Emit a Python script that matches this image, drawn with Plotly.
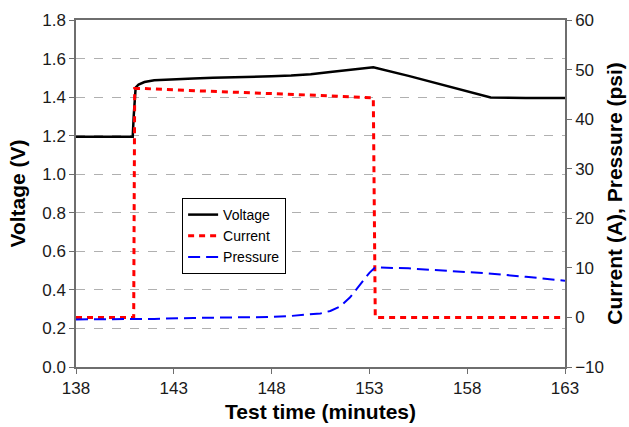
import plotly.graph_objects as go

# ---- data ----
volt_t = [138, 140.9, 140.95, 141.05, 141.2, 141.5, 142, 143, 144, 145, 146, 147, 148,
          149, 150, 151, 152, 153.2, 155, 157, 159.2, 161, 163]
volt_v = [1.195, 1.195, 1.30, 1.45, 1.465, 1.478, 1.487, 1.493, 1.497, 1.500, 1.502, 1.505,
          1.508, 1.512, 1.519, 1.530, 1.542, 1.555, 1.51, 1.455, 1.398, 1.395, 1.395]

curr_t = [138, 140.95, 141.0, 141.3, 143, 145, 147, 149, 151, 153.2, 153.3, 163]
curr_a = [0.0, 0.0, 46.2, 46.2, 45.9, 45.6, 45.4, 45.1, 44.7, 44.3, 0.0, 0.0]

pres_t = [138, 140, 142, 144, 146, 148, 149, 150, 150.5, 151, 151.5, 152, 152.5, 153,
          153.3, 155, 157, 159, 161, 163]
pres_p = [-0.4, -0.4, -0.3, -0.1, 0.0, 0.1, 0.3, 0.6, 0.8, 1.3, 2.2, 4.0, 6.5, 9.0,
          10.1, 9.9, 9.4, 8.9, 8.2, 7.4]

x_ticks = [138, 143, 148, 153, 158, 163]

FONT = "Liberation Sans, Arial, sans-serif"
AX = "#6e6e6e"
TICKF = dict(size=17, color="#1a1a1a")
TITLEF = dict(size=21, color="black")

fig = go.Figure()
fig.add_trace(go.Scatter(x=volt_t, y=volt_v, name="Voltage", mode="lines",
                         line=dict(color="black", width=2.5)))
fig.add_trace(go.Scatter(x=curr_t, y=curr_a, name="Current", mode="lines", yaxis="y2",
                         line=dict(color="#ff0000", width=3, dash="6px,5px")))
fig.add_trace(go.Scatter(x=pres_t, y=pres_p, name="Pressure", mode="lines", yaxis="y2",
                         line=dict(color="#0000ff", width=2, dash="12px,6px")))

fig.update_layout(
    width=629, height=427,
    margin=dict(l=76, r=64, t=20, b=60),
    paper_bgcolor="white", plot_bgcolor="white",
    font=dict(family=FONT, size=14, color="#1a1a1a"),
    showlegend=True,
    legend=dict(x=0.217, y=0.487, xanchor="left", yanchor="top",
                bordercolor="black", borderwidth=1, bgcolor="white",
                font=dict(size=14, color="black"), tracegroupgap=0),
    xaxis=dict(range=[138, 163], tickvals=x_ticks, ticktext=[str(v) for v in x_ticks],
               showline=True, linecolor=AX, linewidth=1.5, mirror=True,
               ticks="outside", ticklen=5, tickcolor=AX, showgrid=False, zeroline=False,
               tickfont=TICKF, automargin=False,
               title=dict(text="<b>Test time (minutes)</b>", font=TITLEF, standoff=7)),
    yaxis=dict(range=[0, 1.8], dtick=0.2, tickformat=".1f",
               showline=True, linecolor=AX, linewidth=1.5,
               ticks="outside", ticklen=5, tickcolor=AX,
               showgrid=True, gridcolor="#b0b0b0", griddash="dash", gridwidth=1,
               zeroline=False, tickfont=TICKF, automargin=False,
               title=dict(text="<b>Voltage (V)</b>", font=TITLEF, standoff=11)),
    yaxis2=dict(range=[-10, 60], dtick=10, overlaying="y", side="right",
                showline=True, linecolor=AX, linewidth=1.5,
                ticks="outside", ticklen=5, tickcolor=AX,
                showgrid=False, zeroline=False, tickfont=TICKF, automargin=False,
                title=dict(text="<b>Current (A), Pressure (psi)</b>",
                           font=TITLEF, standoff=4)),
)

fig.write_html("out.html", config={"displayModeBar": False},
               post_script="document.body.style.margin='0';")
